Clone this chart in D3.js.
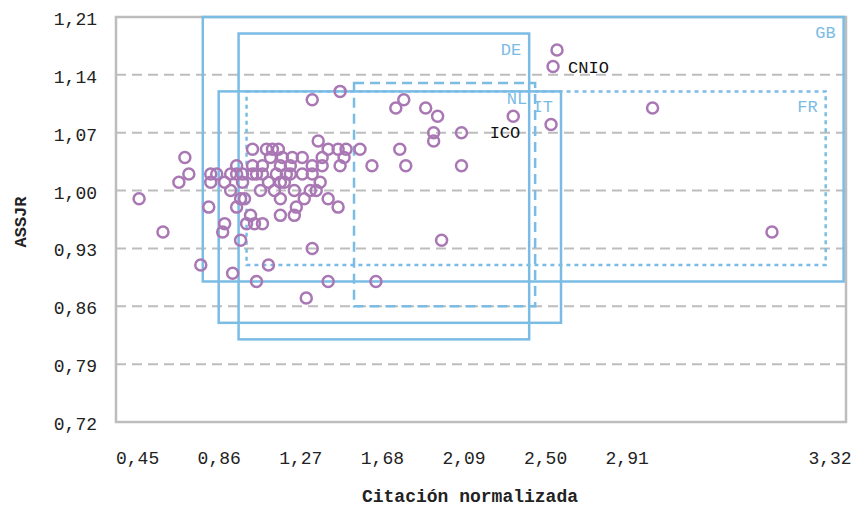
<!DOCTYPE html>
<html lang="es">
<head>
<meta charset="utf-8">
<title>ASSJR vs citación normalizada</title>
<script src="https://cdn.jsdelivr.net/npm/d3@7"></script>
<style>
  body { margin: 0; background: #ffffff; }
  svg text { font-family: "Liberation Mono", "DejaVu Sans Mono", monospace; }
</style>
</head>
<body>
<script>
// width and height
var w = 864, h = 508;
var margin = {left: 116, right: 18, top: 17, bottom: 86};

// centres: citacion normalizada (x) and ASSJR (y)
var citacion = [0.46, 0.58, 0.69, 0.71, 0.66, 0.77, 0.81, 0.82, 0.85, 0.82,
  0.88, 0.89, 0.93, 0.97, 0.95, 0.95, 0.92, 0.97, 0.95, 1.03,
  1.03, 1.03, 1.08, 1.08, 1.07, 1.02, 1.00, 1.04, 1.08, 1.10,
  1.13, 1.16, 1.18, 1.17, 1.15, 1.17, 1.20, 1.17, 1.17, 1.23,
  1.22, 1.24, 1.25, 1.24, 1.28, 1.28, 1.29, 1.32, 1.35, 1.37,
  1.33, 1.33, 1.36, 1.38, 1.38, 1.41, 1.46, 1.50, 1.47, 1.49,
  1.41, 1.46, 1.33, 1.47, 1.33, 1.11, 1.05, 1.41, 1.30, 1.57,
  1.63, 1.65, 1.75, 1.79, 1.90, 1.96, 1.94, 1.94, 2.08, 1.77,
  1.80, 2.08, 1.98, 2.34, 2.53, 2.54, 2.56, 3.04, 3.64, 0.98,
  0.89, 0.92, 1.05, 1.14, 0.99, 1.11, 0.98, 1.12, 1.22, 1.19];
var assjr = [0.99, 0.95, 1.04, 1.02, 1.01, 0.91, 0.98, 1.02, 1.02, 1.01,
  0.95, 0.96, 0.90, 0.94, 1.03, 1.02, 1.00, 0.99, 0.98, 1.05,
  1.03, 1.02, 1.03, 1.02, 1.00, 0.97, 0.96, 0.96, 0.96, 1.05,
  1.05, 1.05, 1.04, 1.03, 1.02, 1.01, 1.02, 0.99, 0.97, 1.04,
  1.03, 1.00, 0.98, 0.97, 1.04, 1.02, 0.99, 1.00, 1.00, 1.01,
  1.02, 1.03, 1.06, 1.04, 1.03, 1.05, 1.05, 1.05, 1.03, 1.04,
  0.99, 0.98, 1.11, 1.12, 0.93, 0.91, 0.89, 0.89, 0.87, 1.05,
  1.03, 0.89, 1.10, 1.11, 1.10, 1.09, 1.07, 1.06, 1.07, 1.05,
  1.03, 1.03, 0.94, 1.09, 1.08, 1.15, 1.17, 1.10, 0.95, 1.01,
  1.01, 1.02, 1.02, 1.00, 0.99, 1.01, 1.02, 1.04, 1.02, 1.01];

// named centres (index into the arrays above)
var centreNames = ["CNIO", "ICO"];
var centreIndex = [85, 83];

// country boxes
var countries = ["GB", "DE", "IT", "NL", "FR"];
var boxX0 = [0.78, 0.96, 0.86, 1.54, 1.00];
var boxX1 = [4.00, 2.42, 2.58, 2.45, 3.91];
var boxY0 = [0.89, 0.82, 0.84, 0.86, 0.91];
var boxY1 = [1.21, 1.19, 1.12, 1.13, 1.12];
var boxStyle = ["solid", "solid", "solid", "dashed", "dotted"];

// ticks
var xTicks = [0.45, 0.86, 1.27, 1.68, 2.09, 2.50, 2.91];
var xEndLabel = 3.32;
var yTicks = [0.72, 0.79, 0.86, 0.93, 1.00, 1.07, 1.14, 1.21];

var dataset = citacion.map(function(d, i) { return {x: d, y: assjr[i]}; });

var xScale = d3.scaleLinear().domain([0.344, 4.012]).range([margin.left, w - margin.right]);
var yScale = d3.scaleLinear().domain([0.72, 1.21]).range([h - margin.bottom, margin.top]);

var fmt = function(v) { return d3.format(".2f")(v).replace(".", ","); };

var svg = d3.select("body").append("svg").attr("width", w).attr("height", h);

// gridlines (dashed, inner ticks only)
svg.append("g").selectAll("line")
  .data(yTicks.slice(1, -1))
  .enter().append("line")
  .attr("x1", xScale.range()[0]).attr("x2", xScale.range()[1])
  .attr("y1", function(d) { return yScale(d); })
  .attr("y2", function(d) { return yScale(d); })
  .attr("stroke", "#bdbdbd").attr("stroke-width", 2)
  .attr("stroke-dasharray", "10,6");

// frame
svg.append("rect")
  .attr("x", xScale.range()[0]).attr("y", yScale.range()[1])
  .attr("width", xScale.range()[1] - xScale.range()[0])
  .attr("height", yScale.range()[0] - yScale.range()[1])
  .attr("fill", "none").attr("stroke", "#bdbdbd").attr("stroke-width", 2.5);

// axes (text only)
var yAxis = d3.axisLeft(yScale).tickValues(yTicks).tickFormat(fmt).tickSize(0).tickPadding(19);
var gy = svg.append("g").attr("transform", "translate(" + margin.left + ",0)").call(yAxis);
var xAxis = d3.axisBottom(xScale).tickValues(xTicks).tickFormat(fmt).tickSize(0).tickPadding(29);
var gx = svg.append("g").attr("transform", "translate(0," + (h - margin.bottom) + ")").call(xAxis);
[gy, gx].forEach(function(g) {
  g.select(".domain").remove();
  g.selectAll("text").attr("font-family", "Liberation Mono, DejaVu Sans Mono, monospace")
    .attr("font-size", "18px").attr("fill", "#222");
});
gy.selectAll("text").attr("dy", "0.42em");
// last x label sits at the right end of the axis
gx.append("text")
  .attr("x", xScale.range()[1] - 16).attr("y", 29).attr("dy", "0.71em")
  .attr("text-anchor", "middle")
  .attr("font-family", "Liberation Mono, DejaVu Sans Mono, monospace")
  .attr("font-size", "18px").attr("fill", "#222")
  .text(fmt(xEndLabel));

// axis titles
svg.append("text")
  .attr("x", (xScale.range()[0] + xScale.range()[1]) / 2 - 11).attr("y", 502)
  .attr("text-anchor", "middle").attr("font-weight", "bold").attr("font-size", "18px")
  .attr("fill", "#222").text("Citación normalizada");
svg.append("text")
  .attr("transform", "translate(26,222) rotate(-90)")
  .attr("text-anchor", "middle").attr("font-weight", "bold").attr("font-size", "17px")
  .attr("fill", "#222").text("ASSJR");

// country boxes
var boxes = countries.map(function(c, i) {
  return {name: c, x0: boxX0[i], x1: boxX1[i], y0: boxY0[i], y1: boxY1[i], style: boxStyle[i]};
});
var dash = {solid: null, dashed: "10,6", dotted: "4,4"};
svg.append("g").selectAll("rect")
  .data(boxes)
  .enter().append("rect")
  .attr("x", function(d) { return xScale(d.x0); })
  .attr("y", function(d) { return yScale(d.y1); })
  .attr("width", function(d) { return xScale(d.x1) - xScale(d.x0); })
  .attr("height", function(d) { return yScale(d.y0) - yScale(d.y1); })
  .attr("fill", "none").attr("stroke", "#7bbce5").attr("stroke-width", 2.5)
  .attr("stroke-dasharray", function(d) { return dash[d.style]; });
svg.append("g").selectAll("text")
  .data(boxes)
  .enter().append("text")
  .attr("x", function(d) { return xScale(d.x1) - 8; })
  .attr("y", function(d) { return yScale(d.y1) + 21; })
  .attr("text-anchor", "end")
  .attr("font-family", "Roboto, Liberation Sans, sans-serif")
  .attr("font-size", "17px").attr("fill", "#7bbce5")
  .text(function(d) { return d.name; });

// points
svg.append("g").selectAll("circle")
  .data(dataset)
  .enter().append("circle")
  .attr("cx", function(d) { return xScale(d.x); })
  .attr("cy", function(d) { return yScale(d.y); })
  .attr("r", 5.5)
  .attr("fill", "none").attr("stroke", "#a978b4").attr("stroke-width", 2.5);

// centre labels
var labelled = centreNames.map(function(n, i) { return {name: n, d: dataset[centreIndex[i]]}; });
svg.append("text")
  .attr("x", xScale(labelled[0].d.x) + 15).attr("y", yScale(labelled[0].d.y))
  .attr("dy", "0.35em").attr("font-family", "DejaVu Sans Mono, monospace")
  .attr("font-size", "17px").attr("fill", "#111").text(labelled[0].name);
svg.append("text")
  .attr("x", xScale(labelled[1].d.x) + 7).attr("y", yScale(labelled[1].d.y) + 16)
  .attr("dy", "0.35em").attr("text-anchor", "end").attr("font-family", "DejaVu Sans Mono, monospace")
  .attr("font-size", "17px").attr("fill", "#111").text(labelled[1].name);
</script>
</body>
</html>
